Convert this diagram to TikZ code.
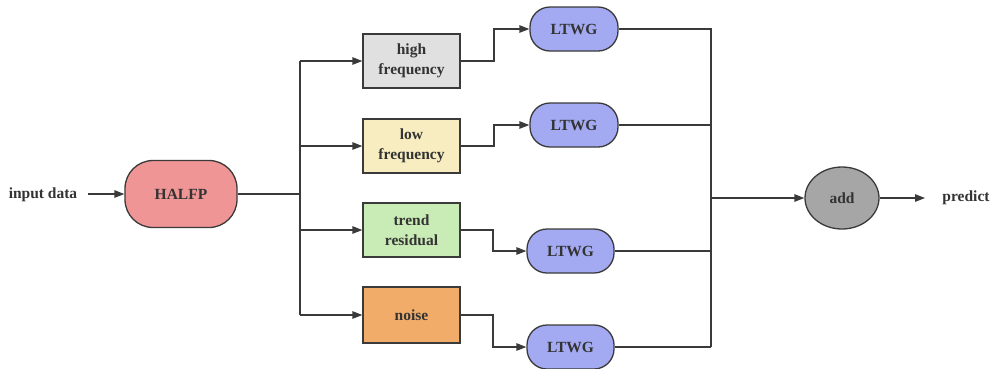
\documentclass[tikz,border=0pt]{standalone}
\usepackage{fontspec}
\setmainfont{Liberation Serif}
\usetikzlibrary{arrows.meta,shapes.geometric}
\definecolor{ln}{HTML}{3A3A3A}
\definecolor{txt}{HTML}{333333}
\definecolor{cHalfp}{HTML}{F09595}
\definecolor{cHigh}{HTML}{E0E0E0}
\definecolor{cLow}{HTML}{F7EDC0}
\definecolor{cTrend}{HTML}{C9EBB5}
\definecolor{cNoise}{HTML}{F1AC6A}
\definecolor{cLtwg}{HTML}{A3AAF2}
\definecolor{cAdd}{HTML}{A6A6A6}
\tikzset{
  every node/.style={font=\bfseries\fontsize{15.5}{19.5}\selectfont, text=txt},
  conn/.style={draw=ln, line width=1.3pt},
  arr/.style={conn, -{Triangle[length=10pt,width=7.5pt]}},
  box/.style={draw=ln, line width=1.3pt, rectangle, minimum width=97pt, minimum height=54pt, align=center, inner sep=0pt},
  pill/.style={draw=ln, line width=1.3pt, rectangle, rounded corners=20pt, minimum width=88pt, minimum height=44pt, fill=cLtwg, inner sep=0pt},
}
\begin{document}
\begin{tikzpicture}[x=1pt,y=-1pt]
\useasboundingbox (0,0) rectangle (991,368);
\node (in) at (43,195) {input data};
\node[draw=ln, line width=1.3pt, rectangle, rounded corners=28pt, minimum width=112pt, minimum height=67pt, fill=cHalfp] (halfp) at (181,194) {HALFP};
\node[box, fill=cHigh] (hf) at (411.5,61) {high\\frequency};
\node[box, fill=cLow] (lf) at (411.5,146) {low\\frequency};
\node[box, fill=cTrend] (tr) at (411.5,230) {trend\\residual};
\node[box, fill=cNoise, minimum height=56pt] (no) at (411.5,315) {noise};
\node[pill] (l1) at (574,29) {LTWG};
\node[pill] (l2) at (574,125) {LTWG};
\node[pill, minimum width=87pt] (l3) at (570.5,251) {LTWG};
\node[pill, minimum width=87pt] (l4) at (570.5,347) {LTWG};
\node[ellipse, draw=ln, line width=1.3pt, fill=cAdd, minimum width=74pt, minimum height=62pt, inner sep=0pt] (add) at (842,198) {add};
\node (pr) at (966,198) {predict};
\coordinate (bus) at (300,194);
\coordinate (bus2) at (711,198);
\coordinate (out) at (925,198);
% input
\draw[arr] (88,194) -- (halfp.west);
\draw[conn] (halfp.east) -- (bus);
\draw[conn] (bus |- hf.west) -- (bus |- no.west);
\foreach \b in {hf,lf,tr,no} \draw[arr] (bus |- \b.west) -- (\b.west);
% to LTWG
\draw[arr] (hf.east) -| (494,61) |- (l1.west);
\draw[arr] (lf.east) -| (494,146) |- (l2.west);
\draw[arr] (tr.east) -| (493,230) |- (l3.west);
\draw[arr] (no.east) -| (493,315) |- (l4.west);
% to bus2
\draw[conn] (l1.east) -| (bus2 |- l4.east);
\draw[conn] (l2.east) -- (bus2 |- l2.east);
\draw[conn] (l3.east) -- (bus2 |- l3.east);
\draw[conn] (l4.east) -- (bus2 |- l4.east);
\draw[arr] (bus2) -- (add.west);
\draw[arr] (add.east) -- (out);
\end{tikzpicture}
\end{document}
